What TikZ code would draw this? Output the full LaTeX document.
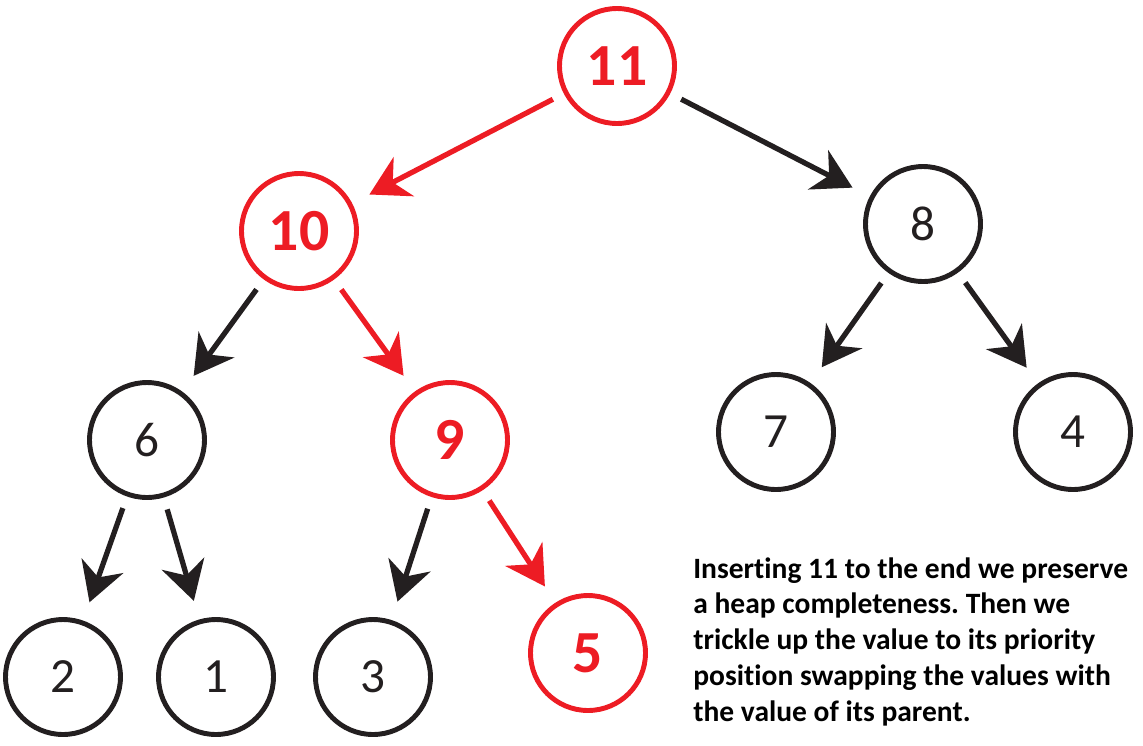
\documentclass[tikz,border=0pt]{standalone}
\usepackage{fontspec}
\setmainfont[Ligatures=NoCommon]{Carlito}
\usetikzlibrary{arrows.meta}
\definecolor{heapred}{HTML}{ED1C24}
\definecolor{heapblack}{HTML}{231F20}
\tikzset{
	heapnode/.style={circle, draw=heapblack, line width=2.8pt, minimum size=2.3cm, inner sep=0pt, text=heapblack, font=\fontsize{28pt}{28pt}\selectfont},
	hotnode/.style={heapnode, draw=heapred, text=heapred, font=\fontsize{34pt}{34pt}\selectfont\bfseries},
	heaparrow/.style={draw=heapblack, line width=3pt, -{Stealth[length=22pt,width=25pt,inset=7pt]}, shorten <=7pt, shorten >=11pt},
	hotarrow/.style={heaparrow, draw=heapred}
}
\frenchspacing
\begin{document}
\begin{tikzpicture}[x=0.02cm, y=-0.02cm]
		\useasboundingbox (0,0) rectangle (1143,745);
		% the keys of the heap
		\node[hotnode] (k11) at (617,66) {11};
		\node[hotnode] (k10) at (299,231) {10};
		\node[heapnode] (k8) at (923,224) {8};
		\node[heapnode] (k6) at (147,440) {6};
		\node[hotnode] (k9) at (450,440) {9};
		\node[heapnode] (k7) at (776,432) {7};
		\node[heapnode] (k4) at (1073,432) {4};
		\node[heapnode] (k2) at (63,677) {2};
		\node[heapnode] (k1) at (216,677) {1};
		\node[heapnode] (k3) at (373,677) {3};
		\node[hotnode] (k5) at (588,653) {5};
		% parent to child
		\draw[hotarrow] (k11) -- (k10);
		\draw[heaparrow] (k11) -- (k8);
		\draw[heaparrow] (k10) -- (k6);
		\draw[hotarrow] (k10) -- (k9);
		\draw[heaparrow] (k8) -- (k7);
		\draw[heaparrow] (k8) -- (k4);
		\draw[heaparrow] (k6) -- (k2);
		\draw[heaparrow] (k6) -- (k1);
		\draw[heaparrow] (k9) -- (k3);
		\draw[hotarrow] (k9) -- (k5);
		\node[anchor=north west, inner sep=0pt, align=left, font=\fontsize{16.8pt}{20.4pt}\selectfont\bfseries] (note) at (693,557)
		{Inserting 11 to the end we preserve\\
		a heap completeness. Then we\\
		trickle up the value to its priority\\
		position swapping the values with\\
		the value of its parent.};
\end{tikzpicture}
\end{document}
